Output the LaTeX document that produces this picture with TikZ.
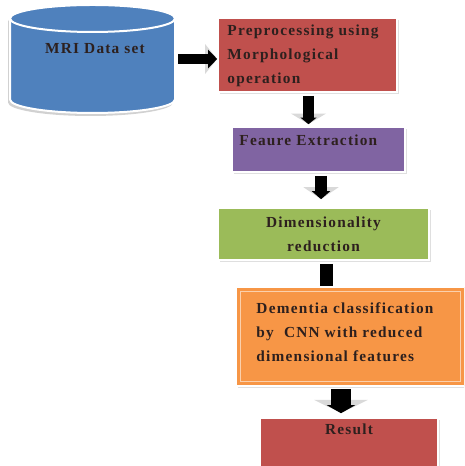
\documentclass[tikz,border=0pt]{standalone}
\usepackage{fontspec}
\setmainfont{Liberation Serif}
\newfontfamily\stagefont{Liberation Serif}[LetterSpace=8]
\usetikzlibrary{arrows.meta,shadows}
\definecolor{dbblue}{RGB}{79,129,189}
\definecolor{prered}{RGB}{192,80,77}
\definecolor{featpurple}{RGB}{128,100,162}
\definecolor{dimgreen}{RGB}{155,187,89}
\definecolor{demorange}{RGB}{247,150,70}
\definecolor{labelink}{RGB}{45,32,30}
\begin{document}
\begin{tikzpicture}[x=0.75pt,y=0.75pt,
  stage/.style={draw=white, line width=1.2pt, inner sep=0pt,
    drop shadow={shadow xshift=1.2pt, shadow yshift=-1.2pt, opacity=0.25}},
  caption/.style={font=\stagefont\fontsize{11.5}{18}\selectfont\bfseries, text=labelink, inner sep=0pt},
  flow/.style n args={3}{draw=black, line width=#1, -{Triangle[width=#2,length=#3]}},
  halo/.style 2 args={preaction={draw=black!15, -{Triangle[width=#1,length=#2]}}},
]
\useasboundingbox (0,0) rectangle (464,466);
\fill[white] (0,0) rectangle (464,466);
\clip (0,0) rectangle (464,466);

% data set drawn as a cylinder
\begin{scope}[shift={(-2,-3)}]
  \fill[black, opacity=0.18] (10,447.5) -- (10,366.5)
    arc[start angle=180,end angle=360,x radius=61.875pt,y radius=10.125pt]
    -- (175,447.5)
    arc[start angle=0,end angle=180,x radius=61.875pt,y radius=10.125pt] -- cycle;
\end{scope}
\draw[white, line width=1.5pt, fill=dbblue] (10,447.5) -- (10,366.5)
  arc[start angle=180,end angle=360,x radius=61.875pt,y radius=10.125pt]
  -- (175,447.5)
  arc[start angle=0,end angle=180,x radius=61.875pt,y radius=10.125pt] -- cycle;
\draw[white, line width=1.5pt, fill=dbblue] (92.5,447.5)
  ellipse[x radius=61.875pt, y radius=10.125pt];
\node[minimum width=123.75pt, minimum height=81pt, inner sep=0pt] (mri) at (92.5,407) {};
\node[caption] (mritxt) at (95,417) {MRI Data set};

% processing stages
\node[stage, fill=prered, minimum width=134.25pt, minimum height=55.5pt] (pre) at (307.5,411) {};
\node[caption, align=left, anchor=west] (pretxt) at ([shift={(7.5pt,-0.75pt)}]pre.west)
  {Preprocessing using\\Morphological\\operation};

\node[stage, fill=featpurple, minimum width=129.75pt, minimum height=33.75pt] (feat) at (318.5,316.5) {};
\node[caption, anchor=west] (feattxt) at ([shift={(6pt,7.1pt)}]feat.west) {Feaure Extraction};

\node[stage, fill=dimgreen, minimum width=158.25pt, minimum height=39pt, caption, align=center]
  (dim) at (323.5,232) {Dimensionality\\reduction};

\node[stage, fill=demorange, minimum width=171.75pt, minimum height=74.25pt] (dem) at (350.5,129.5) {};
\draw[demorange!45!white, line width=0.6pt] ([shift={(4pt,-4pt)}]dem.north west)
  rectangle ([shift={(-4pt,4pt)}]dem.south east);
\node[caption, align=left, anchor=west] (demtxt) at ([shift={(15.75pt,3pt)}]dem.west)
  {Dementia classification\\by~ CNN with reduced\\dimensional features};

\node[stage, fill=prered, minimum width=133.5pt, minimum height=45pt] (res) at (349,18) {};
\node[caption] (restxt) at ([yshift=-9pt]res.north) {Result};

% block arrows between stages
\draw[flow={7.5pt}{13.5pt}{6.75pt}, halo={21.75pt}{9pt}]
  ([xshift=2.25pt]mri.east) -- (mri.east -| pre.west);
\draw[flow={8.25pt}{12pt}{5pt}, halo={26pt}{8pt}]
  ([shift={(0.75pt,-2.25pt)}]pre.south) -- ([shift={(0.75pt,1.5pt)}]pre.south |- feat.north);
\draw[flow={9pt}{13.5pt}{6pt}, halo={26pt}{9pt}]
  ([shift={(1.9pt,-2.25pt)}]feat.south) -- ([shift={(1.9pt,6pt)}]feat.south |- dim.north);
\draw[draw=black, line width=9.75pt]
  ([shift={(2.6pt,-2.25pt)}]dim.south) -- ([xshift=2.6pt]dim.south |- dem.north);
\draw[flow={15pt}{21pt}{6pt}, halo={40pt}{10pt}]
  ([shift={(-6pt,-1.5pt)}]res.north |- dem.south) -- ([shift={(-6pt,3pt)}]res.north);
\end{tikzpicture}
\end{document}
